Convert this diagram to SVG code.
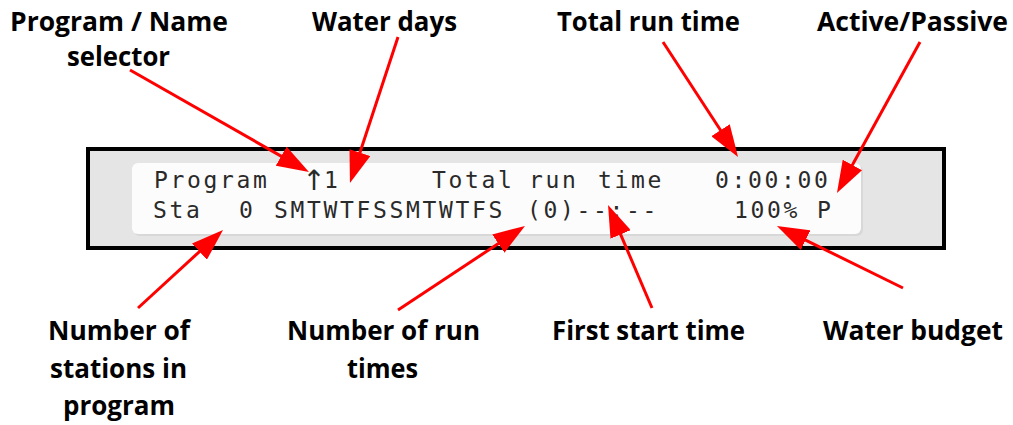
<svg xmlns="http://www.w3.org/2000/svg" width="1013" height="425" viewBox="0 0 1013 425">
  <style>
    .lbl { font-family: "Open Sans", "Liberation Sans", sans-serif; font-weight: bold; font-size: 26px; fill: #000; text-anchor: middle; }
    .lcd { font-family: "DejaVu Sans Mono", "Liberation Mono", monospace; font-size: 23px; letter-spacing: 2.65px; fill: #2a2a2a; }
    .conn { stroke: #FF0000; stroke-width: 3; fill: none; marker-end: url(#head); }
  </style>
  <defs>
    <marker id="head" markerUnits="userSpaceOnUse" viewBox="0 0 32 22" refX="12" refY="11" markerWidth="32" markerHeight="22" orient="auto">
      <path d="M0,0 L32,11 L0,22 Z" fill="#FF0000"/>
    </marker>
  </defs>
  <rect width="1013" height="425" fill="#FFFFFF"/>

  <g id="display">
    <rect x="88" y="149" width="856" height="99" fill="#E4E5E4" stroke="#000" stroke-width="4"/>
    <rect x="134" y="165" width="729" height="71" rx="6" fill="#D2D3D2" opacity="0.7"/>
    <rect x="132" y="163" width="729" height="71" rx="6" fill="#FCFCFC"/>
    <text class="lcd" x="154" y="188">Program</text>
    <text x="314" y="190" font-family="DejaVu Sans, sans-serif" font-size="28" fill="#2a2a2a" text-anchor="middle">↑</text>
    <text class="lcd" x="324" y="188">1</text>
    <text class="lcd" x="432" y="188">Total</text>
    <text class="lcd" x="529" y="188">run</text>
    <text class="lcd" x="598" y="188">time</text>
    <text class="lcd" x="715" y="188">0:00:00</text>
    <text class="lcd" x="153" y="218">Sta</text>
    <text class="lcd" x="239" y="218">0</text>
    <text class="lcd" x="274" y="218">SMTWTFSSMTWTFS</text>
    <text class="lcd" x="527" y="218">(0)--:--</text>
    <text class="lcd" x="734" y="218">100%</text>
    <text class="lcd" x="817" y="218">P</text>
  </g>

  <g id="label-program-name">
    <text class="lbl" x="119" y="31" textLength="218" lengthAdjust="spacingAndGlyphs">Program / Name</text>
    <text class="lbl" x="118.5" y="66" textLength="103" lengthAdjust="spacingAndGlyphs">selector</text>
  </g>
  <g id="label-water-days">
    <text class="lbl" x="384.5" y="31" textLength="145" lengthAdjust="spacingAndGlyphs">Water days</text>
  </g>
  <g id="label-total-run-time">
    <text class="lbl" x="648.5" y="31" textLength="183" lengthAdjust="spacingAndGlyphs">Total run time</text>
  </g>
  <g id="label-active-passive">
    <text class="lbl" x="912.5" y="31" textLength="191" lengthAdjust="spacingAndGlyphs">Active/Passive</text>
  </g>
  <g id="label-stations">
    <text class="lbl" x="119" y="340" textLength="142" lengthAdjust="spacingAndGlyphs">Number of</text>
    <text class="lbl" x="118.5" y="378" textLength="137" lengthAdjust="spacingAndGlyphs">stations in</text>
    <text class="lbl" x="119" y="415" textLength="112" lengthAdjust="spacingAndGlyphs">program</text>
  </g>
  <g id="label-run-times">
    <text class="lbl" x="383.5" y="340" textLength="193" lengthAdjust="spacingAndGlyphs">Number of run</text>
    <text class="lbl" x="382.5" y="378" textLength="71" lengthAdjust="spacingAndGlyphs">times</text>
  </g>
  <g id="label-first-start">
    <text class="lbl" x="648.5" y="340" textLength="193" lengthAdjust="spacingAndGlyphs">First start time</text>
  </g>
  <g id="label-water-budget">
    <text class="lbl" x="913" y="340" textLength="180" lengthAdjust="spacingAndGlyphs">Water budget</text>
  </g>

  <g id="connectors">
    <line class="conn" x1="130" y1="70" x2="291.6" y2="162.1"/>
    <line class="conn" x1="398" y1="37" x2="356.2" y2="164"/>
    <line class="conn" x1="663" y1="42" x2="727.1" y2="140.2"/>
    <line class="conn" x1="920" y1="42" x2="846.6" y2="175.5"/>
    <line class="conn" x1="138" y1="308" x2="208.3" y2="243.5"/>
    <line class="conn" x1="398" y1="310" x2="508.3" y2="237"/>
    <line class="conn" x1="652" y1="308" x2="615.9" y2="223.4"/>
    <line class="conn" x1="903" y1="288" x2="794.9" y2="234.8"/>
  </g>
</svg>
